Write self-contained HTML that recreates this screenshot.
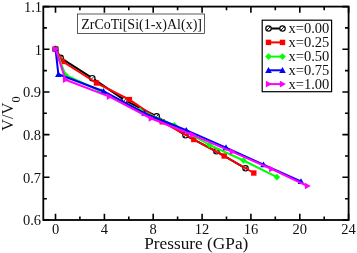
<!DOCTYPE html>
<html><head><meta charset="utf-8"><style>
html,body{margin:0;padding:0;background:#fff;}
body{width:357px;height:253px;overflow:hidden;}
svg{display:block;filter:blur(0.3px);}
text{font-family:"Liberation Serif",serif;fill:#111;}
</style></head><body>
<svg width="357" height="253" viewBox="0 0 357 253">
<rect x="0" y="0" width="357" height="253" fill="#fff"/>

<polyline points="55.5,49.0 60.6,57.8 92.3,78.2 124.6,100.2 156.7,116.3 185.5,135.3 216.4,151.3 245.5,168.3" fill="none" stroke="#000" stroke-width="2.0" stroke-linejoin="round"/>
<circle cx="55.5" cy="49.0" r="2.7" fill="#fff" stroke="#000" stroke-width="1.2"/><line x1="53.6" y1="50.9" x2="57.4" y2="47.1" stroke="#000" stroke-width="0.9"/>
<circle cx="60.6" cy="57.8" r="2.7" fill="#fff" stroke="#000" stroke-width="1.2"/><line x1="58.7" y1="59.7" x2="62.5" y2="55.9" stroke="#000" stroke-width="0.9"/>
<circle cx="92.3" cy="78.2" r="2.7" fill="#fff" stroke="#000" stroke-width="1.2"/><line x1="90.4" y1="80.1" x2="94.2" y2="76.3" stroke="#000" stroke-width="0.9"/>
<circle cx="124.6" cy="100.2" r="2.7" fill="#fff" stroke="#000" stroke-width="1.2"/><line x1="122.7" y1="102.1" x2="126.5" y2="98.3" stroke="#000" stroke-width="0.9"/>
<circle cx="156.7" cy="116.3" r="2.7" fill="#fff" stroke="#000" stroke-width="1.2"/><line x1="154.8" y1="118.2" x2="158.6" y2="114.4" stroke="#000" stroke-width="0.9"/>
<circle cx="185.5" cy="135.3" r="2.7" fill="#fff" stroke="#000" stroke-width="1.2"/><line x1="183.6" y1="137.2" x2="187.4" y2="133.4" stroke="#000" stroke-width="0.9"/>
<circle cx="216.4" cy="151.3" r="2.7" fill="#fff" stroke="#000" stroke-width="1.2"/><line x1="214.5" y1="153.2" x2="218.3" y2="149.4" stroke="#000" stroke-width="0.9"/>
<circle cx="245.5" cy="168.3" r="2.7" fill="#fff" stroke="#000" stroke-width="1.2"/><line x1="243.6" y1="170.2" x2="247.4" y2="166.4" stroke="#000" stroke-width="0.9"/>
<polyline points="55.5,49.0 62.6,61.5 96.5,83.0 129.4,99.6 162.2,121.8 193.8,139.5 224.2,156.0 253.8,173.0" fill="none" stroke="#f00" stroke-width="2.0" stroke-linejoin="round"/>
<rect x="52.8" y="46.3" width="5.4" height="5.4" fill="#f00"/>
<rect x="59.9" y="58.8" width="5.4" height="5.4" fill="#f00"/>
<rect x="93.8" y="80.3" width="5.4" height="5.4" fill="#f00"/>
<rect x="126.7" y="96.9" width="5.4" height="5.4" fill="#f00"/>
<rect x="159.5" y="119.1" width="5.4" height="5.4" fill="#f00"/>
<rect x="191.1" y="136.8" width="5.4" height="5.4" fill="#f00"/>
<rect x="221.5" y="153.3" width="5.4" height="5.4" fill="#f00"/>
<rect x="251.1" y="170.3" width="5.4" height="5.4" fill="#f00"/>
<polyline points="55.5,49.0 65.5,75.0 101.2,91.5 140.0,110.5 174.3,125.2 209.5,145.0 243.6,160.5 276.9,177.1" fill="none" stroke="#0f0" stroke-width="2.0" stroke-linejoin="round"/>
<polygon points="55.5,45.7 58.8,49.0 55.5,52.3 52.2,49.0" fill="#0f0"/>
<polygon points="65.5,71.7 68.8,75.0 65.5,78.3 62.2,75.0" fill="#0f0"/>
<polygon points="101.2,88.2 104.5,91.5 101.2,94.8 97.9,91.5" fill="#0f0"/>
<polygon points="140.0,107.2 143.3,110.5 140.0,113.8 136.7,110.5" fill="#0f0"/>
<polygon points="174.3,121.9 177.6,125.2 174.3,128.5 171.0,125.2" fill="#0f0"/>
<polygon points="209.5,141.7 212.8,145.0 209.5,148.3 206.2,145.0" fill="#0f0"/>
<polygon points="243.6,157.2 246.9,160.5 243.6,163.8 240.3,160.5" fill="#0f0"/>
<polygon points="276.9,173.8 280.2,177.1 276.9,180.4 273.6,177.1" fill="#0f0"/>
<polyline points="55.5,49.0 58.4,74.3 103.5,91.2 144.5,113.2 186.2,130.2 226.0,147.6 263.5,164.7 301.0,181.5" fill="none" stroke="#00f" stroke-width="2.0" stroke-linejoin="round"/>
<polygon points="55.5,45.7 58.8,51.6 52.2,51.6" fill="#00f"/>
<polygon points="58.4,71.0 61.7,76.9 55.1,76.9" fill="#00f"/>
<polygon points="103.5,87.9 106.8,93.8 100.2,93.8" fill="#00f"/>
<polygon points="144.5,109.9 147.8,115.8 141.2,115.8" fill="#00f"/>
<polygon points="186.2,126.9 189.5,132.8 182.9,132.8" fill="#00f"/>
<polygon points="226.0,144.3 229.3,150.2 222.7,150.2" fill="#00f"/>
<polygon points="263.5,161.4 266.8,167.3 260.2,167.3" fill="#00f"/>
<polygon points="301.0,178.2 304.3,184.1 297.7,184.1" fill="#00f"/>
<polyline points="55.5,49.0 65.5,79.8 109.4,96.6 151.3,118.5 192.4,134.8 232.4,151.8 271.7,169.0 307.5,186.0" fill="none" stroke="#f0f" stroke-width="2.0" stroke-linejoin="round"/>
<polygon points="58.8,49.0 52.9,45.7 52.9,52.3" fill="#f0f"/>
<polygon points="68.8,79.8 62.9,76.5 62.9,83.1" fill="#f0f"/>
<polygon points="112.7,96.6 106.8,93.3 106.8,99.9" fill="#f0f"/>
<polygon points="154.6,118.5 148.7,115.2 148.7,121.8" fill="#f0f"/>
<polygon points="195.7,134.8 189.8,131.5 189.8,138.1" fill="#f0f"/>
<polygon points="235.7,151.8 229.8,148.5 229.8,155.1" fill="#f0f"/>
<polygon points="275.0,169.0 269.1,165.7 269.1,172.3" fill="#f0f"/>
<polygon points="310.8,186.0 304.9,182.7 304.9,189.3" fill="#f0f"/>
<rect x="43.3" y="6.6" width="305.3" height="213.4" fill="none" stroke="#000" stroke-width="1.8"/>
<path d="M55.5,220.0v-6.2M55.5,6.6v6.2M79.9,220.0v-3.6M79.9,6.6v3.6M104.4,220.0v-6.2M104.4,6.6v6.2M128.8,220.0v-3.6M128.8,6.6v3.6M153.2,220.0v-6.2M153.2,6.6v6.2M177.6,220.0v-3.6M177.6,6.6v3.6M202.1,220.0v-6.2M202.1,6.6v6.2M226.5,220.0v-3.6M226.5,6.6v3.6M250.9,220.0v-6.2M250.9,6.6v6.2M275.3,220.0v-3.6M275.3,6.6v3.6M299.8,220.0v-6.2M299.8,6.6v6.2M324.2,220.0v-3.6M324.2,6.6v3.6M348.6,220.0v-6.2M348.6,6.6v6.2M43.3,220.0h6.2M348.6,220.0h-6.2M43.3,198.7h3.6M348.6,198.7h-3.6M43.3,177.3h6.2M348.6,177.3h-6.2M43.3,156.0h3.6M348.6,156.0h-3.6M43.3,134.6h6.2M348.6,134.6h-6.2M43.3,113.3h3.6M348.6,113.3h-3.6M43.3,92.0h6.2M348.6,92.0h-6.2M43.3,70.6h3.6M348.6,70.6h-3.6M43.3,49.3h6.2M348.6,49.3h-6.2M43.3,27.9h3.6M348.6,27.9h-3.6M43.3,6.6h6.2M348.6,6.6h-6.2" stroke="#000" stroke-width="1.6" fill="none"/>
<text x="55.5" y="233.9" font-size="14.5" text-anchor="middle">0</text>
<text x="104.4" y="233.9" font-size="14.5" text-anchor="middle">4</text>
<text x="153.2" y="233.9" font-size="14.5" text-anchor="middle">8</text>
<text x="202.1" y="233.9" font-size="14.5" text-anchor="middle">12</text>
<text x="250.9" y="233.9" font-size="14.5" text-anchor="middle">16</text>
<text x="299.8" y="233.9" font-size="14.5" text-anchor="middle">20</text>
<text x="348.6" y="233.9" font-size="14.5" text-anchor="middle">24</text>
<text x="41.1" y="225.2" font-size="14.5" text-anchor="end">0.6</text>
<text x="41.1" y="182.5" font-size="14.5" text-anchor="end">0.7</text>
<text x="41.1" y="139.8" font-size="14.5" text-anchor="end">0.8</text>
<text x="41.1" y="97.2" font-size="14.5" text-anchor="end">0.9</text>
<text x="42.1" y="54.5" font-size="14.5" text-anchor="end">1</text>
<text x="42.1" y="11.8" font-size="14.5" text-anchor="end">1.1</text>
<text x="196.3" y="248.8" font-size="17.3" text-anchor="middle">Pressure (GPa)</text>
<text transform="translate(12.8,131) rotate(-90)" font-size="16.5" text-anchor="start">V/V<tspan dx="0" dy="7" font-size="12.3">0</tspan></text>
<rect x="77.5" y="14" width="127" height="19.5" fill="#fff" stroke="#333" stroke-width="0.8"/>
<text x="81.2" y="29" font-size="14">ZrCoTi[Si(1-x)Al(x)]</text>
<rect x="262.2" y="20.2" width="69.4" height="71.5" fill="#fff" stroke="#000" stroke-width="1.2"/>
<line x1="268" y1="28.5" x2="283" y2="28.5" stroke="#000" stroke-width="2"/>
<circle cx="268.5" cy="28.5" r="2.7" fill="#fff" stroke="#000" stroke-width="1.2"/><line x1="266.6" y1="30.4" x2="270.4" y2="26.6" stroke="#000" stroke-width="0.9"/>
<circle cx="282.5" cy="28.5" r="2.7" fill="#fff" stroke="#000" stroke-width="1.2"/><line x1="280.6" y1="30.4" x2="284.4" y2="26.6" stroke="#000" stroke-width="0.9"/>
<text x="288.5" y="33.3" font-size="14.5">x=0.00</text>
<line x1="268" y1="42.4" x2="283" y2="42.4" stroke="#f00" stroke-width="2"/>
<rect x="265.8" y="39.7" width="5.4" height="5.4" fill="#f00"/>
<rect x="279.8" y="39.7" width="5.4" height="5.4" fill="#f00"/>
<text x="288.5" y="47.2" font-size="14.5">x=0.25</text>
<line x1="268" y1="56.6" x2="283" y2="56.6" stroke="#0f0" stroke-width="2"/>
<polygon points="268.5,53.3 271.8,56.6 268.5,59.9 265.2,56.6" fill="#0f0"/>
<polygon points="282.5,53.3 285.8,56.6 282.5,59.9 279.2,56.6" fill="#0f0"/>
<text x="288.5" y="61.4" font-size="14.5">x=0.50</text>
<line x1="268" y1="70.3" x2="283" y2="70.3" stroke="#00f" stroke-width="2"/>
<polygon points="268.5,67.0 271.8,72.9 265.2,72.9" fill="#00f"/>
<polygon points="282.5,67.0 285.8,72.9 279.2,72.9" fill="#00f"/>
<text x="288.5" y="75.1" font-size="14.5">x=0.75</text>
<line x1="268" y1="84.1" x2="283" y2="84.1" stroke="#f0f" stroke-width="2"/>
<polygon points="271.8,84.1 265.9,80.8 265.9,87.4" fill="#f0f"/>
<polygon points="285.8,84.1 279.9,80.8 279.9,87.4" fill="#f0f"/>
<text x="288.5" y="88.9" font-size="14.5">x=1.00</text>
</svg></body></html>
